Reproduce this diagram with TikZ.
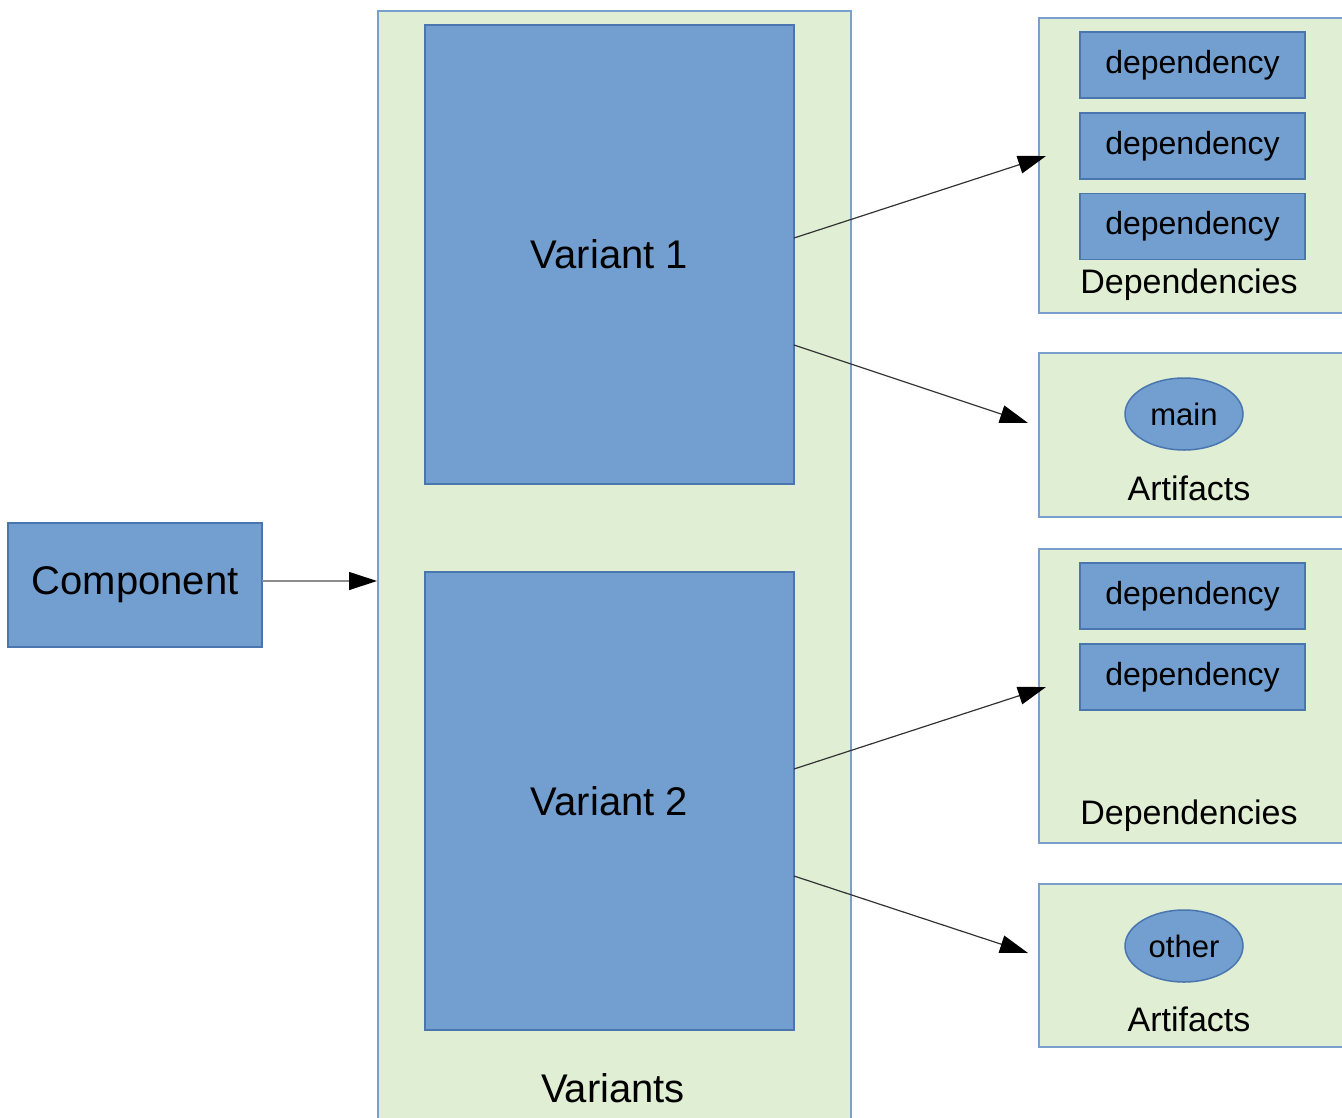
\documentclass[tikz,border=0pt]{standalone}
\usepackage{fontspec}
\setmainfont{Liberation Sans}
\usetikzlibrary{arrows.meta, shapes.geometric}
\definecolor{boxblue}{HTML}{729FCF}
\definecolor{edgeblue}{HTML}{4A76B0}
\definecolor{panelgreen}{HTML}{E0EED4}
\definecolor{paneledge}{HTML}{7B9FCC}
\tikzset{
    panel/.style = {draw=paneledge, fill=panelgreen, line width=1.5pt, anchor=north west, inner sep=0pt},
    bluebox/.style = {draw=edgeblue, fill=boxblue, line width=1.5pt, inner sep=0pt},
    depbox/.style = {bluebox, minimum width=225, minimum height=66, font=\fontsize{32}{36}\selectfont},
    artoval/.style = {bluebox, ellipse, minimum width=118, minimum height=72, font=\fontsize{31}{35}\selectfont},
    biglabel/.style = {font=\fontsize{40}{46}\selectfont},
    sidelabel/.style = {font=\fontsize{34}{40}\selectfont},
    link/.style = {-{Triangle[length=28pt, width=18pt, color=black]}, line width=1.2pt, black!80}
}

\begin{document}
\begin{tikzpicture}[x=1pt, y=-1pt]
        \useasboundingbox (0, 0) rectangle (1342, 1117);
        \clip (0, 0) rectangle (1342, 1117);
        \node[panel, minimum width=473, minimum height=1130] (variants) at (377, 10) {};
        \node[bluebox, biglabel, minimum width=369, minimum height=459] (var1) at (609.5, 254.5) {Variant 1};
        \node[bluebox, biglabel, minimum width=369, minimum height=458] (var2) at (609.5, 801) {Variant 2};
        \node[biglabel] (varlabel) at (613, 1088) {Variants};
        \node[bluebox, biglabel, minimum width=254, minimum height=124] (comp) at (135, 585) {Component};
        \node[panel, minimum width=330, minimum height=295] (deps1) at (1038, 17) {};
        \node[depbox] (dep11) at (1192.5, 65) {dependency};
        \node[depbox] (dep12) at (1192.5, 146) {dependency};
        \node[depbox] (dep13) at (1192.5, 226.5) {dependency};
        \node[sidelabel] (deplabel1) at (1189, 285) {Dependencies};
        \node[panel, minimum width=330, minimum height=164] (arts1) at (1038, 352) {};
        \node[artoval] (main) at (1184, 414) {main};
        \node[sidelabel] (artlabel1) at (1189, 488) {Artifacts};
        \node[panel, minimum width=330, minimum height=294] (deps2) at (1038, 548) {};
        \node[depbox] (dep21) at (1192.5, 596) {dependency};
        \node[depbox] (dep22) at (1192.5, 677) {dependency};
        \node[sidelabel] (deplabel2) at (1189, 816) {Dependencies};
        \node[panel, minimum width=330, minimum height=163] (arts2) at (1038, 883) {};
        \node[artoval] (other) at (1184, 946) {other};
        \node[sidelabel] (artlabel2) at (1189, 1019) {Artifacts};
        \coordinate (compout) at (262, 581);
        \coordinate (v1dep) at (794, 238);
        \coordinate (v1art) at (794, 345);
        \coordinate (v2dep) at (794, 769);
        \coordinate (v2art) at (794, 876);
        \coordinate (deps1in) at (1046, 156);
        \coordinate (arts1in) at (1028, 423);
        \coordinate (deps2in) at (1046, 687);
        \coordinate (arts2in) at (1028, 953);
        \draw[link, black!45] (compout) -- (variants.west |- compout);
        \draw[link] (v1dep) -- (deps1in);
        \draw[link] (v1art) -- (arts1in);
        \draw[link] (v2dep) -- (deps2in);
        \draw[link] (v2art) -- (arts2in);
    \end{tikzpicture}
\end{document}
